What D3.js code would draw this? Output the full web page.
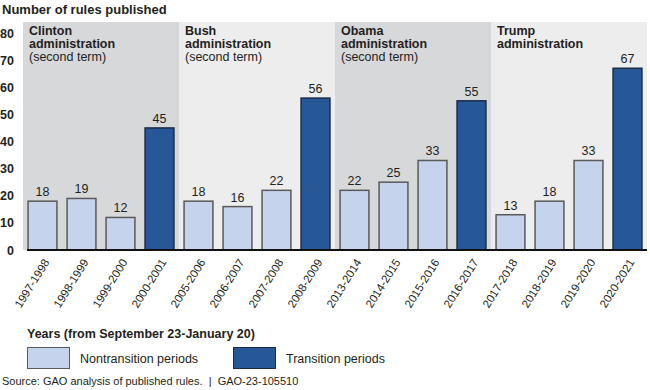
<!DOCTYPE html>
<html>
<head>
<meta charset="utf-8">
<script src="https://cdn.jsdelivr.net/npm/d3@7"></script>
<style>
    body { margin: 0; background: #fff; }
    svg { font-family: Arial, "Liberation Sans", sans-serif; }
</style>
</head>
<body>
<svg width="650" height="390"></svg>
<script>
// data
const years = ['1997-1998', '1998-1999', '1999-2000', '2000-2001',
    '2005-2006', '2006-2007', '2007-2008', '2008-2009',
    '2013-2014', '2014-2015', '2015-2016', '2016-2017',
    '2017-2018', '2018-2019', '2019-2020', '2020-2021'];
const rules = [18, 19, 12, 45, 18, 16, 22, 56, 22, 25, 33, 55, 13, 18, 33, 67];
const transition = [false, false, false, true, false, false, false, true,
    false, false, false, true, false, false, false, true];
const admins = ['Clinton', 'Bush', 'Obama', 'Trump'];
const adminTerms = ['(second term)', '(second term)', '(second term)', ''];
const yTicks = [0, 10, 20, 30, 40, 50, 60, 70, 80];

const svg = d3.select('svg');
const margin = { top: 22, right: 3, bottom: 140, left: 23 };
const width = 650;
const height = 390;
const textColor = '#231f20';

const x = d3.scaleBand()
    .domain(years)
    .range([margin.left, width - margin.right])
    .paddingInner(0.26)
    .paddingOuter(0.13);

const y = d3.scaleLinear()
    .domain([0, 80])
    .range([height - margin.bottom, 33]);

// admin backgrounds
const groupW = (width - margin.right - margin.left) / admins.length;
svg.append('g')
    .selectAll('rect')
    .data(admins)
    .enter().append('rect')
    .attr('x', (d, i) => margin.left + i * groupW)
    .attr('y', margin.top)
    .attr('width', groupW)
    .attr('height', y(0) - margin.top)
    .attr('fill', (d, i) => i % 2 === 0 ? '#d7d8da' : '#ededed');

// admin labels, one text per line
const labelX = i => margin.left + i * groupW + 6;
const lines = admins.map((d, i) => [
    { text: d, bold: true, i: i, row: 0 },
    { text: 'administration', bold: true, i: i, row: 1 },
    { text: adminTerms[i], bold: false, i: i, row: 2 }
]).flat().filter(d => d.text !== '');

svg.append('g')
    .selectAll('text')
    .data(lines)
    .enter().append('text')
    .attr('x', d => labelX(d.i))
    .attr('y', d => 35 + d.row * 13)
    .attr('fill', textColor)
    .attr('font-weight', d => d.bold ? 'bold' : 'normal')
    .style('font-size', '12.5px')
    .text(d => d.text);

// y axis
svg.append('g')
    .attr('transform', `translate(14, 0)`)
    .call(d3.axisLeft(y).tickValues(yTicks).tickSize(0).tickPadding(0))
    .call(g => g.select('.domain').remove())
    .call(g => g.selectAll('text')
        .attr('fill', textColor)
        .style('font-size', '12.5px')
        .style('font-weight', 'bold')
        .style('font-family', 'Arial, "Liberation Sans", sans-serif'));

// bars
svg.append('g')
    .selectAll('rect')
    .data(rules)
    .enter().append('rect')
    .attr('x', (d, i) => x(years[i]))
    .attr('y', d => y(d))
    .attr('width', x.bandwidth())
    .attr('height', d => y(0) - y(d))
    .attr('fill', (d, i) => transition[i] ? '#265796' : '#c6d3ec')
    .attr('stroke', (d, i) => transition[i] ? '#1b2b48' : '#5a5a5a')
    .attr('stroke-width', 1.5);

// value labels
svg.append('g')
    .selectAll('text')
    .data(rules)
    .enter().append('text')
    .attr('x', (d, i) => x(years[i]) + x.bandwidth() / 2)
    .attr('y', d => y(d) - 5)
    .attr('text-anchor', 'middle')
    .attr('fill', textColor)
    .style('font-size', '12.5px')
    .text(d => d);

// x axis
svg.append('g')
    .attr('transform', `translate(0, ${y(0)})`)
    .call(d3.axisBottom(x).tickSize(0).tickPadding(0))
    .call(g => g.select('.domain')
        .attr('d', `M${x(years[0]) - 1},0H${width - margin.right}`)
        .attr('stroke', '#111')
        .attr('stroke-width', 2.2))
    .call(g => g.selectAll('text')
        .attr('fill', textColor)
        .attr('text-anchor', 'end')
        .attr('dy', '0.35em')
        .attr('transform', 'translate(4, 10) rotate(-58)')
        .style('font-size', '11.5px')
        .style('font-family', 'Arial, "Liberation Sans", sans-serif'));

// title
svg.append('text')
    .attr('x', 2)
    .attr('y', 14)
    .attr('fill', textColor)
    .style('font-size', '13px')
    .style('font-weight', 'bold')
    .text('Number of rules published');

// legend
svg.append('text')
    .attr('x', 27)
    .attr('y', 338)
    .attr('fill', textColor)
    .style('font-size', '12.5px')
    .style('font-weight', 'bold')
    .text('Years (from September 23-January 20)');

const legendItems = [
    { label: 'Nontransition periods', fill: '#c6d3ec', stroke: '#5a5a5a', x: 27 },
    { label: 'Transition periods', fill: '#265796', stroke: '#1b2b48', x: 233 }
];
const leg = svg.append('g')
    .selectAll('g')
    .data(legendItems)
    .enter().append('g');
leg.append('rect')
    .attr('x', d => d.x + 0.5)
    .attr('y', 347.5)
    .attr('width', 42)
    .attr('height', 21)
    .attr('fill', d => d.fill)
    .attr('stroke', d => d.stroke);
leg.append('text')
    .attr('x', d => d.x + 53)
    .attr('y', 363)
    .attr('fill', textColor)
    .style('font-size', '12.5px')
    .text(d => d.label);

svg.append('text')
    .attr('x', 2)
    .attr('y', 385)
    .attr('fill', textColor)
    .style('font-size', '11px')
    .style('white-space', 'pre')
    .text('Source: GAO analysis of published rules.  |  GAO-23-105510');
</script>
</body>
</html>
